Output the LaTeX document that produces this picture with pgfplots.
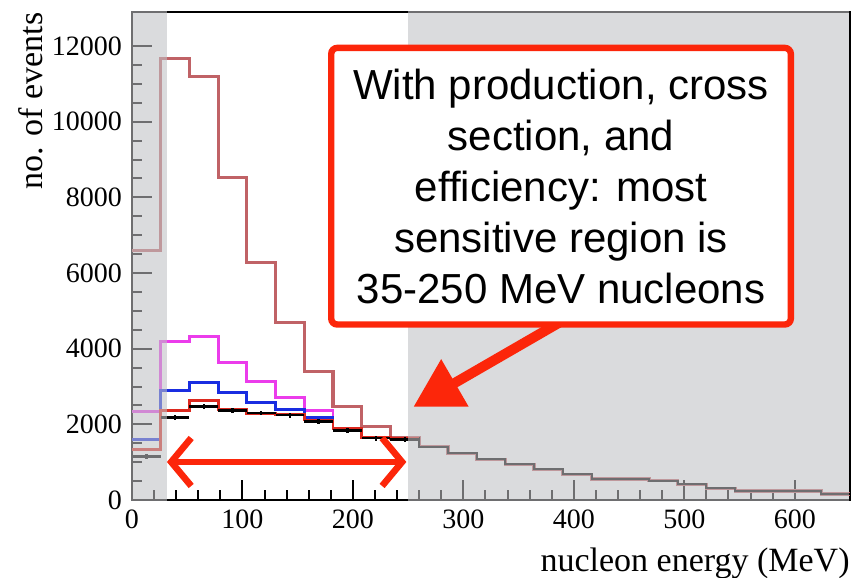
\documentclass[border=0pt]{standalone}
\usepackage{pgfplots}
\pgfplotsset{compat=1.18}
\usepackage{fontspec}
\setmainfont{Liberation Serif}
\newfontfamily\arial{Liberation Sans}
\usetikzlibrary{arrows.meta}
\definecolor{rosy}{RGB}{192,98,102}
\definecolor{magen}{RGB}{235,60,235}
\definecolor{bluec}{RGB}{25,45,225}
\definecolor{redc}{RGB}{220,40,30}
\definecolor{boxred}{RGB}{252,38,10}
\definecolor{shadecol}{RGB}{191,192,196}
\begin{document}
\begin{tikzpicture}
\path[use as bounding box] (-66pt,-39pt) rectangle (365pt,250pt);
\begin{axis}[
  scale only axis, width=359pt, height=244pt,
  xmin=0, xmax=650, ymin=0, ymax=12900,
  clip=false,
  axis line style={line width=1.2pt},
  xtick={0,100,...,600}, ytick={0,2000,...,12000},
  minor x tick num=4, minor y tick num=3,
  xtick pos=bottom, ytick pos=left, tick align=inside,
  major tick length=10pt, minor tick length=5pt,
  every tick/.style={black, line width=1pt},
  ticklabel style={font=\fontsize{14}{14}\selectfont},
  yticklabel style={xshift=-1.5pt},
  xticklabel style={yshift=-1.3pt},
  /pgf/number format/assume math mode=true,
  /pgf/number format/set thousands separator={},
  scaled y ticks=false,
]
% rosy histogram (full range)
\addplot[rosy, line width=1.6pt, const plot mark left] coordinates {
(0,6600)(26,11670)(52,11200)(78,8520)(104,6280)(130,4700)(156,3400)(182,2480)(208,1940)(234,1655)
(260,1410)(286,1235)(312,1077)(338,945)(364,812)(390,680)(416,556)(442,556)(468,511)(494,415)
(520,309)(546,238)(572,238)(598,238)(624,159)(650,159)};
% tail (common)
\addplot[black, line width=1pt, const plot mark left] coordinates {
(234,1640)(260,1410)(286,1235)(312,1077)(338,945)(364,812)(390,680)(416,556)(442,556)(468,511)(494,415)
(520,309)(546,238)(572,238)(598,238)(624,159)(650,159)};
% magenta
\addplot[magen, line width=1.4pt, const plot mark left] coordinates {
(0,2337)(26,4190)(52,4320)(78,3643)(104,3131)(130,2715)(156,2364)(182,1897)(208,1658)(234,1640)(260,1640)};
% blue
\addplot[bluec, line width=1.4pt, const plot mark left] coordinates {
(0,1590)(26,2884)(52,3104)(78,2840)(104,2585)(130,2400)(156,2188)(182,1879)(208,1658)(234,1630)(260,1630)};
% red
\addplot[redc, line width=1.4pt, const plot mark left] coordinates {
(0,1341)(26,2364)(52,2620)(78,2400)(104,2294)(130,2270)(156,2117)(182,1880)(208,1650)(234,1620)(260,1620)};
% data points
\addplot[black, only marks, mark=*, mark size=0pt,
  error bars/.cd, x dir=both, x explicit, y dir=both, y explicit,
  error bar style={line width=1.2pt, black}, error mark=none]
coordinates {
(13,1146) +- (13,60)
(39,2178) +- (13,60)
(65,2469) +- (13,60)
(91,2363) +- (13,60)
(117,2294) +- (13,60)
(143,2240) +- (13,60)
(169,2072) +- (13,60)
(195,1834) +- (13,60)
(221,1632) +- (13,60)
(247,1600) +- (13,60)
};
% shaded regions
\fill[shadecol, opacity=0.576] (axis cs:-1.1,-35) rectangle (axis cs:31.5,12935);
\fill[shadecol, opacity=0.576] (axis cs:250,-35) rectangle (axis cs:648.9,12935);
% arrows
\draw[boxred, line width=3.3pt, {Straight Barb[length=10pt,width=24pt]}-{Straight Barb[length=10pt,width=24pt]}]
  (axis cs:31.6,1005) -- (axis cs:248.4,1005);
\draw[boxred, line width=5pt, -{Triangle[length=24pt,width=26pt]}]
  (axis cs:399,4895) -- (axis cs:254.7,2461);
% text box
\node[draw=boxred, line width=3.2pt, fill=white, rounded corners=3pt,
  minimum width=229.8pt, minimum height=138.3pt, align=center, inner sep=0pt,
  font=\arial\fontsize{21}{25.5}\selectfont]
  at (axis cs:388.4,8295)
  {With production, cross\\section, and\\efficiency: most\\sensitive region is\\35-250 MeV nucleons};
% axis labels
\node[rotate=90, anchor=south east, inner sep=0pt, font=\fontsize{17}{17}\selectfont]
  at (axis cs:-80.4,12900) {no. of events};
\node[anchor=north east, inner sep=0pt, font=\fontsize{17}{17}\selectfont]
  at (axis cs:650,-1244) {nucleon energy (MeV)};
\end{axis}
\end{tikzpicture}
\end{document}
